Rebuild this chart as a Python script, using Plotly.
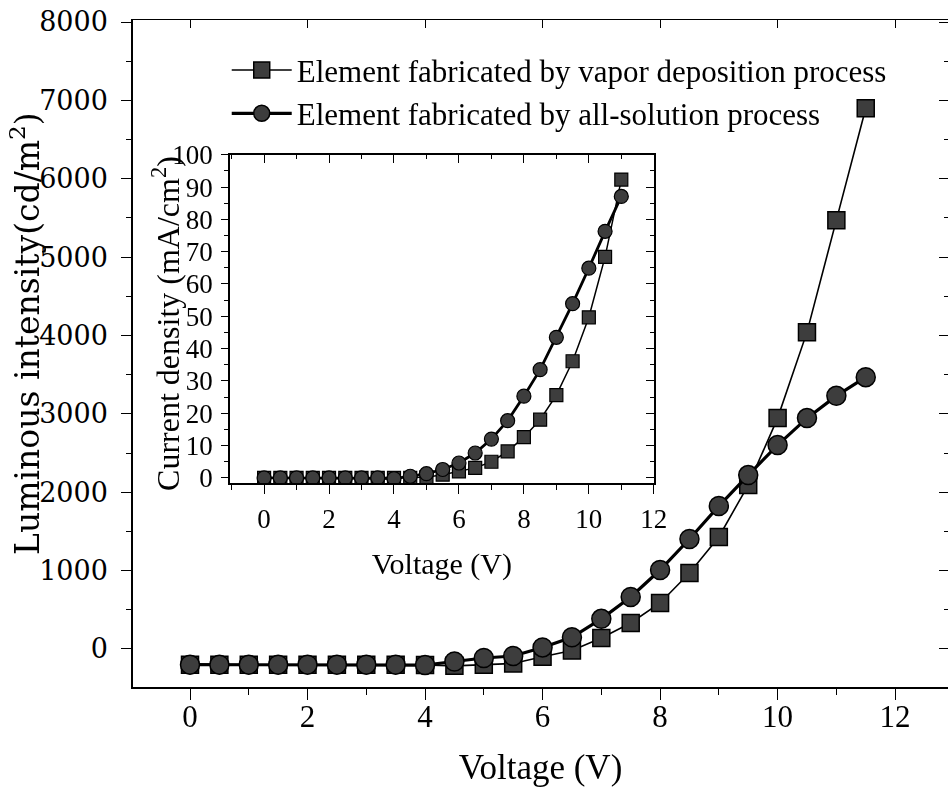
import plotly.graph_objects as go

# ---------------- data ----------------
voltage_main = [0, 0.5, 1, 1.5, 2, 2.5, 3, 3.5, 4, 4.5, 5, 5.5, 6, 6.5, 7, 7.5,
                8, 8.5, 9, 9.5, 10, 10.5, 11, 11.5]
lum_vapor = [-200, -200, -200, -200, -200, -200, -200, -200, -205, -215, -200, -185,
             -100, -20, 140, 332, 587, 969, 1429, 2092, 2946, 4043, 5472, 6900]
lum_solution = [-200, -200, -200, -200, -200, -200, -200, -200, -205, -160, -115, -90,
                20, 150, 385, 663, 1008, 1403, 1824, 2219, 2602, 2946, 3230, 3469]

voltage_inset = [0, 0.5, 1, 1.5, 2, 2.5, 3, 3.5, 4, 4.5, 5, 5.5, 6, 6.5, 7, 7.5,
                 8, 8.5, 9, 9.5, 10, 10.5, 11]
cur_vapor = [0, 0, 0, 0, 0, 0, 0, 0, 0, 0, 0.2, 1.0, 2.0, 3.1, 5.0, 8.2,
             12.6, 18.0, 25.6, 36.1, 49.7, 68.4, 92.3]
cur_solution = [0, 0, 0, 0, 0, 0, 0, 0, -0.2, 0.5, 1.3, 2.6, 4.6, 7.7, 12.0, 17.7,
                25.3, 33.5, 43.5, 53.9, 64.9, 76.3, 87.1]

name_vapor = "Element fabricated by vapor deposition process"
name_solution = "Element fabricated by all-solution process"

main_xticks = [0, 2, 4, 6, 8, 10, 12]
main_yticks = [0, 1000, 2000, 3000, 4000, 5000, 6000, 7000, 8000]
inset_xticks = [0, 2, 4, 6, 8, 10, 12]
inset_yticks = [0, 10, 20, 30, 40, 50, 60, 70, 80, 90, 100]

# ---------------- styling ----------------
SERIF = "Liberation Serif"
WIDE = "DejaVu Serif"
FILL = "#3d3d3d"
MAIN_XR = [-0.97, 12.9]
MAIN_YR = [-485, 8026]
INS_XR = [-1.05, 12.0]
INS_YR = [-1.55, 100]

fig = go.Figure()

fig.add_trace(go.Scatter(
    x=voltage_main, y=lum_vapor, name=name_vapor, mode="lines+markers",
    line=dict(color="black", width=1.6),
    marker=dict(symbol="square", size=17, color=FILL, line=dict(color="black", width=1.5)),
    xaxis="x", yaxis="y"))
fig.add_trace(go.Scatter(
    x=voltage_main, y=lum_solution, name=name_solution, mode="lines+markers",
    line=dict(color="black", width=3.2),
    marker=dict(symbol="circle", size=19, color=FILL, line=dict(color="black", width=1.5)),
    xaxis="x", yaxis="y"))

fig.add_trace(go.Scatter(x=voltage_main, y=lum_vapor, mode="markers", opacity=0,
                         showlegend=False, hoverinfo="skip", xaxis="x3", yaxis="y3"))

fig.add_trace(go.Scatter(
    x=voltage_inset, y=cur_vapor, mode="lines+markers", showlegend=False,
    line=dict(color="black", width=1.5),
    marker=dict(symbol="square", size=13, color=FILL, line=dict(color="black", width=1.2)),
    xaxis="x2", yaxis="y2"))
fig.add_trace(go.Scatter(
    x=voltage_inset, y=cur_solution, mode="lines+markers", showlegend=False,
    line=dict(color="black", width=2.8),
    marker=dict(symbol="circle", size=14, color=FILL, line=dict(color="black", width=1.2)),
    xaxis="x2", yaxis="y2"))
fig.add_trace(go.Scatter(x=voltage_inset, y=cur_vapor, mode="markers", opacity=0,
                         showlegend=False, hoverinfo="skip", xaxis="x4", yaxis="y4"))

ins_xd = [0.119, 0.639]
ins_yd = [0.306, 0.798]

fig.update_layout(
    width=948, height=793,
    margin=dict(l=133, r=0, t=20, b=106, autoexpand=False),
    paper_bgcolor="white", plot_bgcolor="rgba(0,0,0,0)",
    font=dict(family=SERIF, color="black"),
    showlegend=True,
    legend=dict(x=0.115, y=0.965, xanchor="left", yanchor="top",
                bgcolor="rgba(0,0,0,0)", font=dict(family=SERIF, size=31),
                tracegroupgap=0, itemwidth=60),
    xaxis=dict(domain=[0, 1], range=MAIN_XR, tickvals=main_xticks, automargin=False,
               showgrid=False, zeroline=False, showline=True, linecolor="black", linewidth=1.5,
               ticks="outside", ticklen=11, tickwidth=1.3, tickcolor="black",
               minor=dict(dtick=1, ticks="outside", ticklen=6, tickwidth=1.2, tickcolor="black"),
               tickfont=dict(family=SERIF, size=31), ticklabelstandoff=-10,
               ticklabeloverflow="allow",
               title=dict(text="Voltage (V)", font=dict(family=SERIF, size=35), standoff=22),
               anchor="y"),
    yaxis=dict(domain=[0, 1], range=MAIN_YR, tickvals=main_yticks, automargin=False,
               showgrid=False, zeroline=False, showline=True, linecolor="black", linewidth=1.5,
               ticks="outside", ticklen=10, tickwidth=1.3, tickcolor="black",
               minor=dict(dtick=500, ticks="outside", ticklen=5, tickwidth=1.2, tickcolor="black"),
               tickfont=dict(family=WIDE, size=27), ticklabelstandoff=8,
               ticklabeloverflow="allow",
               anchor="x"),
    xaxis3=dict(overlaying="x", side="top", range=MAIN_XR, tickvals=main_xticks, automargin=False,
                showticklabels=False, showgrid=False, zeroline=False,
                showline=True, linecolor="black", linewidth=1.2,
                ticks="inside", ticklen=8, tickwidth=1.2, tickcolor="black", anchor="y3"),
    yaxis3=dict(overlaying="y", side="right", range=MAIN_YR, tickvals=main_yticks, automargin=False,
                showticklabels=False, showgrid=False, zeroline=False, showline=False,
                ticks="inside", ticklen=9, tickwidth=1.2, tickcolor="black",
                minor=dict(dtick=500, ticks="inside", ticklen=4, tickwidth=1.1, tickcolor="black"),
                anchor="x3"),
    xaxis2=dict(domain=ins_xd, range=INS_XR, tickvals=inset_xticks, anchor="y2", automargin=False,
                showgrid=False, zeroline=False, showline=True, mirror=True,
                linecolor="black", linewidth=1.5,
                ticks="outside", ticklen=9, tickwidth=1.2, tickcolor="black",
                minor=dict(dtick=1, ticks="outside", ticklen=5, tickwidth=1.1, tickcolor="black"),
                tickfont=dict(family=SERIF, size=27), ticklabelstandoff=2,
                title=dict(text="Voltage (V)", font=dict(family=SERIF, size=30), standoff=20)),
    yaxis2=dict(domain=ins_yd, range=INS_YR, tickvals=inset_yticks, anchor="x2", automargin=False,
                showgrid=False, zeroline=False, showline=True, mirror=True,
                linecolor="black", linewidth=1.5,
                ticks="outside", ticklen=7, tickwidth=1.2, tickcolor="black",
                minor=dict(dtick=5, ticks="outside", ticklen=4, tickwidth=1.1, tickcolor="black"),
                tickfont=dict(family=SERIF, size=27), ticklabelstandoff=3),
    xaxis4=dict(overlaying="x2", side="top", range=INS_XR, tickvals=inset_xticks, automargin=False,
                showticklabels=False, showgrid=False, zeroline=False, showline=False,
                ticks="inside", ticklen=8, tickwidth=1.2, tickcolor="black",
                minor=dict(dtick=1, ticks="inside", ticklen=4, tickwidth=1.1, tickcolor="black"),
                anchor="y4"),
    yaxis4=dict(overlaying="y2", side="right", range=INS_YR, tickvals=inset_yticks, automargin=False,
                showticklabels=False, showgrid=False, zeroline=False, showline=False,
                ticks="inside", ticklen=8, tickwidth=1.2, tickcolor="black",
                minor=dict(dtick=5, ticks="inside", ticklen=4, tickwidth=1.1, tickcolor="black"),
                anchor="x4"),
    annotations=[
        dict(text="Luminous intensity(cd/m<sup>2</sup>)", textangle=-90,
             xref="paper", yref="paper", x=-0.132, y=0.53,
             xanchor="center", yanchor="middle", showarrow=False,
             font=dict(family=WIDE, size=33, color="black")),
        dict(text="Current density (mA/cm<sup>2</sup>)", textangle=-90,
             xref="paper", yref="paper", x=0.041, y=0.545,
             xanchor="center", yanchor="middle", showarrow=False,
             font=dict(family=SERIF, size=32, color="black")),
    ],
)

# remove the page's default body margin so the figure fills the window exactly
fig.write_html("out.html", config={"displayModeBar": False},
               post_script="document.body.style.margin='0';")
